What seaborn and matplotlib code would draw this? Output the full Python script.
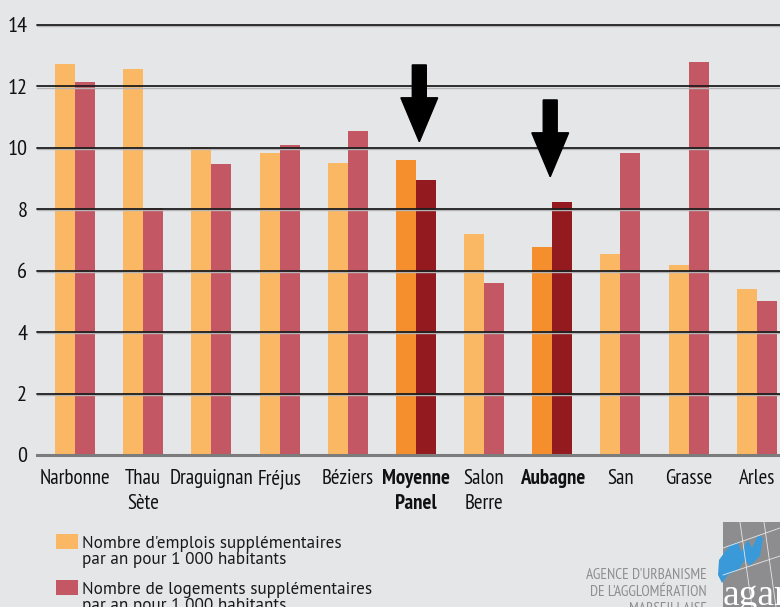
import matplotlib
matplotlib.use("Agg")
import matplotlib.pyplot as plt
from matplotlib.patches import Rectangle, Polygon
import seaborn as sns
import pandas as pd

# ---- data ----
categories = ["Narbonne", "Thau\nSète", "Draguignan", "Fréjus", "Béziers",
              "Moyenne\nPanel", "Salon\nBerre", "Aubagne", "San", "Grasse", "Arles"]
emplois = [12.73, 12.57, 10.04, 9.83, 9.51, 9.61, 7.20, 6.77, 6.55, 6.19, 5.41]
logements = [12.15, 8.04, 9.48, 10.09, 10.55, 8.95, 5.60, 8.24, 9.83, 12.80, 5.02]
highlighted = ["Moyenne\nPanel", "Aubagne"]
series_labels = [["Nombre d'emplois supplémentaires", "par an pour 1 000 habitants"],
                 ["Nombre de logements supplémentaires", "par an pour 1 000 habitants"]]
agency_lines = ["AGENCE D'URBANISME", "DE L'AGGLOMÉRATION", "MARSEILLAISE"]
yticks = [0, 2, 4, 6, 8, 10, 12, 14]

# ---- style ----
BG = "#e5e6e8"
C_EMP, C_LOG = "#fbb864", "#c35864"
C_EMP_H, C_LOG_H = "#f58f2e", "#931b20"
FONT = ["PT Sans Narrow", "DejaVu Sans"]
FONT_LEG = ["PT Sans", "DejaVu Sans"]

sns.set_style("white")
plt.rcParams["font.family"] = FONT

df = pd.DataFrame({
    "cat": categories * 2,
    "val": emplois + logements,
    "serie": ["emplois"] * len(categories) + ["logements"] * len(categories),
})

W, H = 780, 607
fig = plt.figure(figsize=(W / 100, H / 100), dpi=100, facecolor=BG)
ax = fig.add_axes([37 / W, 1 - 455 / H, 1 - 37 / W, (455 - 25) / H])
ax.set_facecolor(BG)

sns.barplot(data=df, x="cat", y="val", hue="serie", order=categories,
            palette={"emplois": C_EMP, "logements": C_LOG},
            width=0.587, gap=0, saturation=1, legend=False, ax=ax, zorder=1)

# recolor highlighted groups
hi_idx = [categories.index(c) for c in highlighted]
for p in ax.patches:
    xc = p.get_x() + p.get_width() / 2
    i = int(round(xc))
    if i in hi_idx:
        p.set_facecolor(C_EMP_H if xc < i else C_LOG_H)
    p.set_edgecolor("none")

ax.set_xlim(-0.557, 10.34)
ax.set_ylim(0, 14)
ax.set_yticks(yticks)
ax.set_xlabel("")
ax.set_ylabel("")
for s in ["top", "right", "left"]:
    ax.spines[s].set_visible(False)
ax.spines["bottom"].set_color("#7c7c7c")
ax.spines["bottom"].set_linewidth(2.2)
ax.spines["bottom"].set_zorder(4)

# gridlines above bars
for t in yticks[1:]:
    ax.axhline(t - 0.035, color="#b4b4b6", lw=1.0, zorder=3, clip_on=False)
    ax.axhline(t, color="#1e1e1e", lw=1.3, zorder=3.5, clip_on=False)

ax.tick_params(axis="y", length=0, pad=7, labelsize=16, labelcolor="#111111")
ax.tick_params(axis="x", length=0, pad=10, labelsize=15, labelcolor="#111111")
for lab in ax.get_xticklabels():
    lab.set_linespacing(1.4)
    if lab.get_text() in highlighted:
        lab.set_fontweight("bold")

# arrows
for xa, ytop in [(5.05, 12.70), (6.97, 11.56)]:
    ax.arrow(xa, ytop, 0, -2.5, width=0.205, head_width=0.54, head_length=1.43,
             length_includes_head=True, color="black", zorder=5)

# legend (manual)
for k, (col, lines) in enumerate(zip([C_EMP, C_LOG], series_labels)):
    y0 = 534 + k * 46
    fig.patches.append(Rectangle((56 / W, 1 - (y0 + 15) / H), 21.5 / W, 15 / H,
                                 transform=fig.transFigure, facecolor=col,
                                 edgecolor="none"))
    for j, line in enumerate(lines):
        fig.text(81.5 / W, 1 - (y0 + 14.5 + 15 * j) / H, line, ha="left",
                 va="baseline", fontsize=12.3, color="#1a1a1a", family=FONT_LEG)

# agency text
for k, t in enumerate(agency_lines):
    fig.text(707 / W, 1 - (575 + 17 * k) / H, t, ha="right", va="center",
             fontsize=11, color="#8e8e90")

# logo block
fig.patches.append(Rectangle((723 / W, 0), (W - 723) / W, (607 - 522) / H,
                             transform=fig.transFigure, facecolor="#8d8d90",
                             edgecolor="none"))
for (x1, y1, x2, y2) in [(723, 548, 780, 528), (723, 575, 780, 556),
                         (740, 522, 752, 607), (764, 522, 776, 607)]:
    fig.lines.append(plt.Line2D([x1 / W, x2 / W], [1 - y1 / H, 1 - y2 / H],
                                transform=fig.transFigure, color="#e8e8e8", lw=0.6))
blob = [(719, 560), (730, 545), (738, 542), (741, 552), (748, 540), (752, 548),
        (758, 535), (763, 538), (760, 556), (750, 566), (745, 560), (738, 570),
        (728, 575), (722, 583), (718, 575)]
fig.patches.append(Polygon([(x / W, 1 - y / H) for x, y in blob], closed=True,
                           transform=fig.transFigure, facecolor="#3a9ad9",
                           edgecolor="none"))
fig.text(723 / W, 1 - 605 / H, "agam", ha="left", va="baseline", fontsize=27,
         color="white", family=["Liberation Serif", "DejaVu Serif"])

fig.savefig("out.png", dpi=100, facecolor=BG)
